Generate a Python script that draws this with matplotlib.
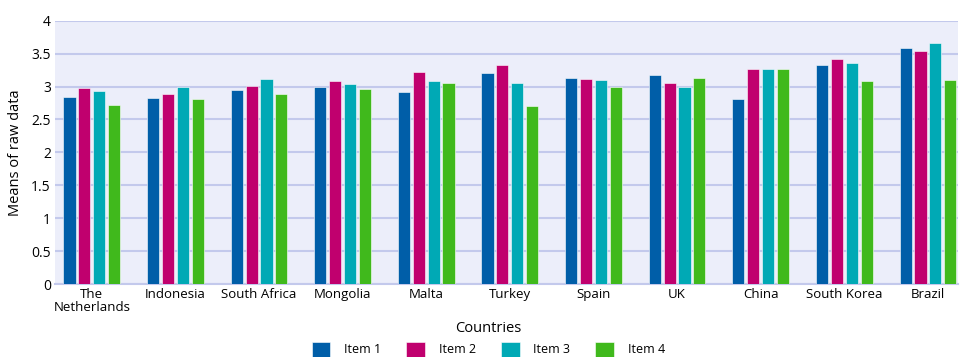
import numpy as np
import matplotlib.pyplot as plt

countries = ['The\nNetherlands', 'Indonesia', 'South Africa', 'Mongolia', 'Malta',
             'Turkey', 'Spain', 'UK', 'China', 'South Korea', 'Brazil']
item1 = [2.84, 2.83, 2.94, 3.00, 2.92, 3.21, 3.13, 3.18, 2.81, 3.33, 3.58]
item2 = [2.97, 2.89, 3.01, 3.09, 3.22, 3.33, 3.12, 3.06, 3.27, 3.42, 3.54]
item3 = [2.93, 3.00, 3.11, 3.04, 3.08, 3.06, 3.10, 3.00, 3.26, 3.35, 3.66]
item4 = [2.72, 2.81, 2.88, 2.96, 3.06, 2.70, 3.00, 3.13, 3.26, 3.09, 3.10]
series_names = ['Item 1', 'Item 2', 'Item 3', 'Item 4']
colors = ['#005EA8', '#C0006E', '#00A9B5', '#40B91C']

plt.rcParams['font.family'] = ['Open Sans', 'DejaVu Sans']

fig = plt.figure(figsize=(9.66, 3.57), dpi=100)
ax = fig.add_axes([55 / 966, 1 - 284 / 357, 903 / 966, (284 - 20.7) / 357])
ax.set_facecolor('#ECEEFA')

x = np.arange(len(countries))
step = 0.178
width = 0.145
for k, (vals, name, c) in enumerate(zip([item1, item2, item3, item4], series_names, colors)):
    ax.bar(x + (k - 1.5) * step, vals, width, color=c, label=name,
           edgecolor='white', linewidth=0.4, zorder=3)

ax.set_ylim(0, 4)
ax.set_yticks(np.arange(0, 4.01, 0.5))
ax.set_yticklabels(['0', '0.5', '1', '1.5', '2', '2.5', '3', '3.5', '4'], fontsize=10)
ax.set_xlim(-0.44, 10.36)
ax.set_xticks(x)
ax.set_xticklabels(countries, fontsize=9.5, linespacing=0.95)
ax.tick_params(length=0, pad=3)
ax.grid(axis='y', color='#C3C9EC', linewidth=1.5, zorder=1)
for s in ['top', 'right', 'left']:
    ax.spines[s].set_visible(False)
ax.spines['bottom'].set_color('#C3C9EC')
ax.spines['bottom'].set_linewidth(1.5)

ax.set_ylabel('Means of raw data', fontsize=10.5, labelpad=6)
ax.set_xlabel('Countries', fontsize=10.5, labelpad=4)
ax.xaxis.set_label_coords(0.48, -0.14)

ax.legend(loc='upper center', bbox_to_anchor=(0.48, -0.2), ncol=4, frameon=False,
          fontsize=9, handlelength=1.5, handleheight=1.5, columnspacing=2.0,
          handletextpad=1.1, borderaxespad=0)

fig.savefig('out.png', dpi=100)
